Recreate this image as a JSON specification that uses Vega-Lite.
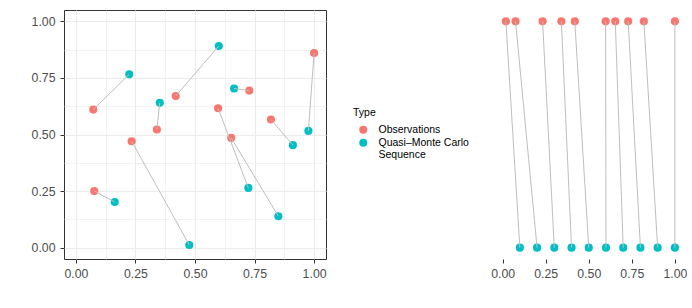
{
  "$schema": "https://vega.github.io/schema/vega-lite/v6.json",
  "background": "white",
  "padding": {"left": 30, "top": 9, "right": 0, "bottom": 0},
  "spacing": 168,
  "bounds": "flush",
  "config": {
    "axis": {"labelFont": "Liberation Sans", "labelFontSize": 12.3, "labelColor": "#4D4D4D", "tickColor": "#333333", "tickSize": 4, "tickWidth": 1},
    "legend": {"titleFont": "Liberation Sans", "titleFontSize": 10.5, "titleFontWeight": "normal", "titleColor": "#000000", "labelFont": "Liberation Sans", "labelFontSize": 10.5, "labelColor": "#000000"},
    "view": {"stroke": "#333333", "strokeWidth": 1}
  },
  "datasets": {
    "left": [
      {"pair": 1, "type": "Observations", "x": 0.073, "y": 0.610},
      {"pair": 1, "type": "Quasi–Monte Carlo Sequence", "x": 0.224, "y": 0.766},
      {"pair": 2, "type": "Observations", "x": 0.077, "y": 0.250},
      {"pair": 2, "type": "Quasi–Monte Carlo Sequence", "x": 0.163, "y": 0.202},
      {"pair": 3, "type": "Observations", "x": 0.234, "y": 0.470},
      {"pair": 3, "type": "Quasi–Monte Carlo Sequence", "x": 0.476, "y": 0.012},
      {"pair": 4, "type": "Observations", "x": 0.340, "y": 0.522},
      {"pair": 4, "type": "Quasi–Monte Carlo Sequence", "x": 0.352, "y": 0.640},
      {"pair": 5, "type": "Observations", "x": 0.419, "y": 0.670},
      {"pair": 5, "type": "Quasi–Monte Carlo Sequence", "x": 0.600, "y": 0.891},
      {"pair": 6, "type": "Observations", "x": 0.597, "y": 0.616},
      {"pair": 6, "type": "Quasi–Monte Carlo Sequence", "x": 0.724, "y": 0.264},
      {"pair": 7, "type": "Observations", "x": 0.652, "y": 0.485},
      {"pair": 7, "type": "Quasi–Monte Carlo Sequence", "x": 0.850, "y": 0.139},
      {"pair": 8, "type": "Observations", "x": 0.728, "y": 0.694},
      {"pair": 8, "type": "Quasi–Monte Carlo Sequence", "x": 0.664, "y": 0.703},
      {"pair": 9, "type": "Observations", "x": 0.819, "y": 0.566},
      {"pair": 9, "type": "Quasi–Monte Carlo Sequence", "x": 0.911, "y": 0.453},
      {"pair": 10, "type": "Observations", "x": 1.0, "y": 0.860},
      {"pair": 10, "type": "Quasi–Monte Carlo Sequence", "x": 0.976, "y": 0.516}
    ],
    "right": [
      {"pair": 1, "type": "Observations", "x": 0.019, "y": 1},
      {"pair": 1, "type": "Quasi–Monte Carlo Sequence", "x": 0.1, "y": 0},
      {"pair": 2, "type": "Observations", "x": 0.075, "y": 1},
      {"pair": 2, "type": "Quasi–Monte Carlo Sequence", "x": 0.2, "y": 0},
      {"pair": 3, "type": "Observations", "x": 0.232, "y": 1},
      {"pair": 3, "type": "Quasi–Monte Carlo Sequence", "x": 0.3, "y": 0},
      {"pair": 4, "type": "Observations", "x": 0.341, "y": 1},
      {"pair": 4, "type": "Quasi–Monte Carlo Sequence", "x": 0.4, "y": 0},
      {"pair": 5, "type": "Observations", "x": 0.419, "y": 1},
      {"pair": 5, "type": "Quasi–Monte Carlo Sequence", "x": 0.5, "y": 0},
      {"pair": 6, "type": "Observations", "x": 0.598, "y": 1},
      {"pair": 6, "type": "Quasi–Monte Carlo Sequence", "x": 0.6, "y": 0},
      {"pair": 7, "type": "Observations", "x": 0.654, "y": 1},
      {"pair": 7, "type": "Quasi–Monte Carlo Sequence", "x": 0.7, "y": 0},
      {"pair": 8, "type": "Observations", "x": 0.729, "y": 1},
      {"pair": 8, "type": "Quasi–Monte Carlo Sequence", "x": 0.8, "y": 0},
      {"pair": 9, "type": "Observations", "x": 0.820, "y": 1},
      {"pair": 9, "type": "Quasi–Monte Carlo Sequence", "x": 0.9, "y": 0},
      {"pair": 10, "type": "Observations", "x": 1.0, "y": 1},
      {"pair": 10, "type": "Quasi–Monte Carlo Sequence", "x": 1.0, "y": 0}
    ]
  },
  "hconcat": [
    {
      "width": 262,
      "height": 249,
      "data": {"name": "left"},
      "layer": [
        {
          "mark": {"type": "point", "filled": true, "size": 66, "opacity": 1},
          "encoding": {
            "x": {"field": "x", "type": "quantitative", "scale": {"domain": [-0.05, 1.05], "nice": false, "zero": false},
              "axis": {"orient": "bottom", "values": [0, 0.25, 0.5, 0.75, 1], "format": ".2f", "grid": true, "gridColor": "#EBEBEB", "gridWidth": 1.07, "domain": false, "title": null, "labelPadding": 4}},
            "y": {"field": "y", "type": "quantitative", "scale": {"domain": [-0.05, 1.05], "nice": false, "zero": false},
              "axis": {"orient": "left", "values": [0, 0.25, 0.5, 0.75, 1], "format": ".2f", "grid": true, "gridColor": "#EBEBEB", "gridWidth": 1.07, "domain": false, "title": null, "labelPadding": 5}},
            "color": {"field": "type", "type": "nominal",
              "scale": {"domain": ["Observations", "Quasi–Monte Carlo Sequence"], "range": ["#F8766D", "#00BFC4"]},
              "legend": {"title": "Type", "orient": "none", "legendX": 289, "legendY": 98, "padding": 0, "symbolType": "circle", "symbolSize": 64, "symbolStrokeWidth": 0, "symbolOffset": 5, "labelOffset": 10, "titlePadding": 6, "rowPadding": 2,
                "labelExpr": "datum.label == 'Observations' ? 'Observations' : ['Quasi–Monte Carlo', 'Sequence']"}}
          }
        },
        {
          "mark": {"type": "line", "color": "#BEBEBE", "strokeWidth": 1},
          "encoding": {
            "x": {"field": "x", "type": "quantitative",
              "axis": {"orient": "top", "values": [0.125, 0.375, 0.625, 0.875], "grid": true, "gridColor": "#EDEDED", "gridWidth": 0.7, "labels": false, "ticks": false, "domain": false, "title": null}},
            "y": {"field": "y", "type": "quantitative",
              "axis": {"orient": "right", "values": [0.125, 0.375, 0.625, 0.875], "grid": true, "gridColor": "#EDEDED", "gridWidth": 0.7, "labels": false, "ticks": false, "domain": false, "title": null}},
            "detail": {"field": "pair", "type": "nominal"}
          }
        }
      ],
      "resolve": {"axis": {"x": "independent", "y": "independent"}}
    },
    {
      "width": 189.5,
      "height": 249,
      "view": {"stroke": null},
      "data": {"name": "right"},
      "layer": [
        {
          "mark": {"type": "point", "filled": true, "size": 66, "opacity": 1},
          "encoding": {
            "x": {"field": "x", "type": "quantitative", "scale": {"domain": [-0.05, 1.05], "nice": false, "zero": false},
              "axis": {"values": [0, 0.25, 0.5, 0.75, 1], "format": ".2f", "grid": false, "domain": false, "title": null, "labelPadding": 4}},
            "y": {"field": "y", "type": "quantitative", "scale": {"domain": [-0.05, 1.05], "nice": false, "zero": false}, "axis": null},
            "color": {"field": "type", "type": "nominal",
              "scale": {"domain": ["Observations", "Quasi–Monte Carlo Sequence"], "range": ["#F8766D", "#00BFC4"]},
              "legend": null}
          }
        },
        {
          "mark": {"type": "line", "color": "#BEBEBE", "strokeWidth": 1},
          "encoding": {
            "x": {"field": "x", "type": "quantitative"},
            "y": {"field": "y", "type": "quantitative"},
            "detail": {"field": "pair", "type": "nominal"}
          }
        }
      ]
    }
  ],
  "resolve": {"scale": {"color": "independent"}, "legend": {"color": "independent"}}
}
